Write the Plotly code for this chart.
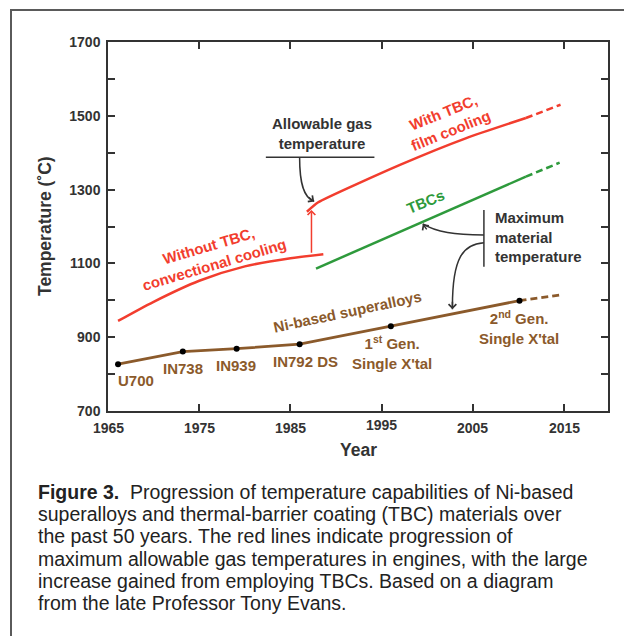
import plotly.graph_objects as go

# ---------------- data ----------------
yr_without_tbc = [1966.1, 1970, 1975, 1980, 1985, 1988.6]
t_without_tbc = [944, 996, 1053, 1092, 1114, 1125]

yr_with_tbc = [1986.8, 1988.0, 1997.0, 2004.2, 2010.8]
t_with_tbc = [1240, 1265, 1367, 1439, 1494]
yr_with_tbc_future = [2010.8, 2014.6]
t_with_tbc_future = [1494, 1530]

yr_tbcs = [1987.8, 2010.8]
t_tbcs = [1086, 1335]
yr_tbcs_future = [2010.8, 2014.5]
t_tbcs_future = [1335, 1373]

alloy_names = ["U700", "IN738", "IN939", "IN792 DS",
               "1<sup>st</sup> Gen.<br>Single X'tal",
               "2<sup>nd</sup> Gen.<br>Single X'tal"]
yr_alloys = [1966.1, 1973.2, 1979.1, 1986.0, 1996.0, 2010.1]
t_alloys = [827, 861, 869, 881, 930, 999]
yr_alloys_future = [2010.1, 2014.5]
t_alloys_future = [999, 1014]

x_ticks = [1965, 1975, 1985, 1995, 2005, 2015]
y_ticks = [700, 900, 1100, 1300, 1500, 1700]

caption_lines = [
    "<b>Figure 3.</b>\u00a0 Progression of temperature capabilities of Ni-based",
    "superalloys and thermal-barrier coating (TBC) materials over",
    "the past 50 years. The red lines indicate progression of",
    "maximum allowable gas temperatures in engines, with the large",
    "increase gained from employing TBCs. Based on a diagram",
    "from the late Professor Tony Evans.",
]

# ---------------- styles ----------------
RED = "#F23D2E"
GREEN = "#2E9A3C"
BROWN = "#8B5A2B"
DARK = "#333333"
FONT = "Liberation Sans, Arial, Helvetica, sans-serif"
LBL = 15

W, H = 624, 636
L, R, T, B = 108, 16, 42, 225
PW, PH = W - L - R, H - T - B


def px_x(px):
    return (px - L) / PW


def px_y(py):
    return (H - B - py) / PH


fig = go.Figure()

fig.add_trace(go.Scatter(x=yr_without_tbc, y=t_without_tbc, mode="lines",
                         line=dict(color=RED, width=2.5, shape="spline", smoothing=0.8),
                         hoverinfo="skip"))
fig.add_trace(go.Scatter(x=yr_with_tbc, y=t_with_tbc, mode="lines",
                         line=dict(color=RED, width=2.5, shape="spline", smoothing=0.5),
                         hoverinfo="skip"))
fig.add_trace(go.Scatter(x=yr_with_tbc_future, y=t_with_tbc_future, mode="lines",
                         line=dict(color=RED, width=2.5, dash="7px,4px"),
                         hoverinfo="skip"))
fig.add_trace(go.Scatter(x=yr_tbcs, y=t_tbcs, mode="lines",
                         line=dict(color=GREEN, width=2.5), hoverinfo="skip"))
fig.add_trace(go.Scatter(x=yr_tbcs_future, y=t_tbcs_future, mode="lines",
                         line=dict(color=GREEN, width=2.5, dash="7px,4px"),
                         hoverinfo="skip"))
fig.add_trace(go.Scatter(x=yr_alloys_future, y=t_alloys_future, mode="lines",
                         line=dict(color=BROWN, width=2.8, dash="7px,4px"),
                         hoverinfo="skip"))
fig.add_trace(go.Scatter(x=yr_alloys, y=t_alloys, mode="lines+markers",
                         line=dict(color=BROWN, width=2.8),
                         marker=dict(color="black", size=6),
                         hoverinfo="skip"))

# alloy labels (offset below markers)
alloy_label_pos = [(1968.1, 783), (1973.2, 815), (1979.0, 824), (1986.6, 835),
                   (1996.1, 858), (2010.0, 926)]
for name, (lx, ly) in zip(alloy_names, alloy_label_pos):
    fig.add_annotation(x=lx, y=ly, text=name, showarrow=False,
                       font=dict(family=FONT, size=LBL, color=BROWN, weight="bold"),
                       xanchor="center", yanchor="middle", align="center")

# rotated curve labels
fig.add_annotation(x=1976.3, y=1121, text="Without TBC,<br>convectional cooling",
                   showarrow=False, textangle=-16.5, xanchor="center", yanchor="middle",
                   font=dict(family=FONT, size=LBL, color=RED, weight="bold"))
fig.add_annotation(x=2002.2, y=1484, text="With TBC,<br>film cooling",
                   showarrow=False, textangle=-22, xanchor="center", yanchor="middle",
                   font=dict(family=FONT, size=LBL, color=RED, weight="bold"))
fig.add_annotation(x=1999.8, y=1268, text="TBCs", showarrow=False, textangle=-22,
                   xanchor="center", yanchor="middle",
                   font=dict(family=FONT, size=LBL, color=GREEN, weight="bold"))
fig.add_annotation(x=1991.3, y=970, text="Ni-based superalloys", showarrow=False,
                   textangle=-12, xanchor="center", yanchor="middle",
                   font=dict(family=FONT, size=LBL, color=BROWN, weight="bold"))

# black labels
fig.add_annotation(x=1988.4, y=1451, text="Allowable gas<br>temperature",
                   showarrow=False, xanchor="center", yanchor="middle",
                   font=dict(family=FONT, size=LBL, color=DARK, weight="bold"))
fig.add_annotation(x=2007.2, y=1172, text="Maximum<br>material<br>temperature",
                   showarrow=False, xanchor="left", yanchor="middle", align="left",
                   font=dict(family=FONT, size=LBL, color=DARK, weight="bold"))

# bars under / beside the black labels
fig.add_shape(type="line", xref="x", yref="y", x0=1982.3, x1=1994.2, y0=1388, y1=1388,
              line=dict(color=DARK, width=1.5))
fig.add_shape(type="line", xref="x", yref="y", x0=2006.2, x1=2006.2, y0=1091, y1=1245,
              line=dict(color=DARK, width=1.5))

# curved arrows
curves = [
    ((1986.0, 1388), (1986.0, 1320), (1986.4, 1278), (1987.6, 1268)),
    ((2006.2, 1177), (2003.0, 1178), (2001.0, 1184), (1999.5, 1207)),
    ((2006.2, 1156), (2004.0, 1152), (2002.7, 1120), (2002.75, 976)),
]
for p0, c1, c2, p1 in curves:
    fig.add_shape(type="path", xref="x", yref="y",
                  path=f"M {p0[0]},{p0[1]} C {c1[0]},{c1[1]} {c2[0]},{c2[1]} {p1[0]},{p1[1]}",
                  line=dict(color=DARK, width=1.5))

heads = [((1987.6, 1268), -7, -5), ((1999.5, 1207), 5, 7), ((2002.75, 976), 0, -9)]
for (hx, hy), ax, ay in heads:
    fig.add_annotation(x=hx, y=hy, ax=ax, ay=ay, text="", showarrow=True,
                       arrowhead=4, arrowsize=1.0, arrowwidth=1.5, arrowcolor=DARK,
                       standoff=0)

# red vertical arrow (gain from TBC)
fig.add_annotation(x=1987.3, y=1245, ax=1987.3, ay=1125, axref="x", ayref="y",
                   text="", showarrow=True, arrowhead=4, arrowsize=1.0,
                   arrowwidth=1.5, arrowcolor=RED, standoff=0)

# x tick labels (1995 sits a little higher, as in the original)
for v in x_ticks:
    fig.add_annotation(x=v, xref="x", yref="paper", y=px_y(425 if v == 1995 else 428),
                       text=str(v), showarrow=False, xanchor="center", yanchor="middle",
                       font=dict(family=FONT, size=14, color=DARK, weight="bold"))

# axis titles
fig.add_annotation(xref="paper", yref="paper", x=px_x(45), y=px_y(226),
                   text="Temperature (˚C)", showarrow=False, textangle=-90,
                   xanchor="center", yanchor="middle",
                   font=dict(family=FONT, size=17.5, color=DARK, weight="bold"))
fig.add_annotation(xref="paper", yref="paper", x=px_x(358), y=px_y(450),
                   text="Year", showarrow=False, xanchor="center", yanchor="middle",
                   font=dict(family=FONT, size=17.5, color=DARK, weight="bold"))

# caption, one line at a time
cap_y0, cap_dy = 492, 22.2
for i, line in enumerate(caption_lines):
    fig.add_annotation(xref="paper", yref="paper", x=px_x(36), y=px_y(cap_y0 + i * cap_dy),
                       xanchor="left", yanchor="middle", align="left",
                       text=line, showarrow=False,
                       font=dict(family=FONT, size=19.5, color="#222222"))

# outer frame (runs off the right and bottom edges)
fig.add_shape(type="rect", xref="paper", yref="paper",
              x0=px_x(11), x1=px_x(640), y0=px_y(660), y1=px_y(10),
              line=dict(color="#5a5a5a", width=2), layer="below")

axis_common = dict(showgrid=False, zeroline=False, showline=True, linecolor=DARK,
                   linewidth=1.5, mirror="ticks", ticks="inside", ticklen=7,
                   tickwidth=1.5, tickcolor=DARK,
                   tickfont=dict(family=FONT, size=14, color=DARK, weight="bold"))

fig.update_xaxes(range=[1965, 2019.8], tickvals=x_ticks, showticklabels=False,
                 **axis_common)
fig.update_yaxes(range=[700, 1700], tickvals=y_ticks, ticklabelstandoff=3,
                 minor=dict(dtick=100, tick0=700, ticks="inside", ticklen=7,
                            tickwidth=1.5, tickcolor=DARK),
                 **axis_common)

fig.update_layout(width=W, height=H, margin=dict(l=L, r=R, t=T, b=B),
                  paper_bgcolor="white", plot_bgcolor="white", showlegend=False)

fig.write_html("out.html", config={"displayModeBar": False},
               post_script="document.body.style.margin='0';"
                           "document.body.style.overflow='hidden';")
